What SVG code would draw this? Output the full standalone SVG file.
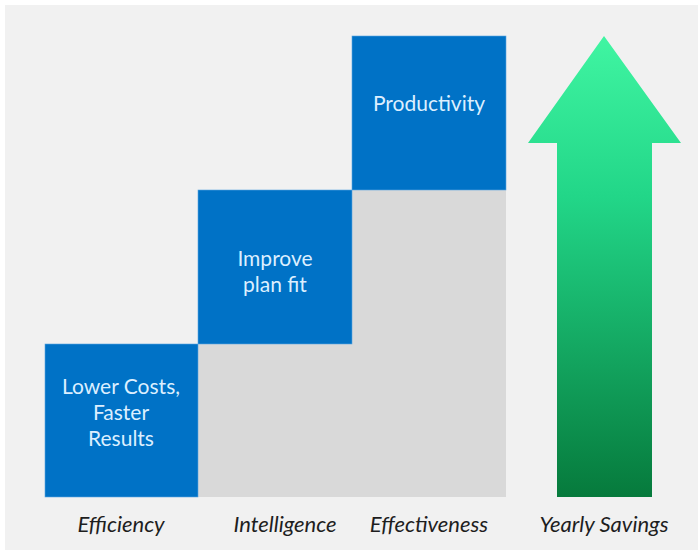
<svg xmlns="http://www.w3.org/2000/svg" width="698" height="550" viewBox="0 0 698 550">
  <defs>
    <linearGradient id="arrowFill" x1="0" y1="0" x2="0" y2="1">
      <stop offset="0" stop-color="#40f5a2"/>
      <stop offset="0.35" stop-color="#22d688"/>
      <stop offset="1" stop-color="#067a3c"/>
    </linearGradient>
    <style>
      .step { fill: #0072c6; stroke: #5aa6e0; stroke-width: 0.6; }
      .step-text { font-family: Lato, "Open Sans", "Liberation Sans", sans-serif; font-size: 21px; fill: #dcefff; text-anchor: middle; }
      .axis-label { font-family: Lato, "Open Sans", "Liberation Sans", sans-serif; font-size: 22px; font-style: italic; fill: #1e1e1e; text-anchor: middle; }
    </style>
  </defs>

  <rect x="0" y="0" width="698" height="550" fill="#ffffff"/>
  <rect x="5" y="5" width="693" height="545" fill="#f1f1f1"/>

  <!-- gray fill under the upper steps -->
  <rect x="198" y="190" width="308" height="307" fill="#d9d9d9"/>

  <g id="efficiency">
    <rect class="step" x="45" y="344" width="153" height="153"/>
    <text class="step-text" x="121" y="394">Lower Costs,</text>
    <text class="step-text" x="121" y="420">Faster</text>
    <text class="step-text" x="121" y="446">Results</text>
  </g>

  <g id="intelligence">
    <rect class="step" x="198" y="190" width="154" height="154"/>
    <text class="step-text" x="275" y="266">Improve</text>
    <text class="step-text" x="275" y="292">plan fit</text>
  </g>

  <g id="effectiveness">
    <rect class="step" x="352" y="36" width="154" height="154"/>
    <text class="step-text" x="429" y="111">Productivity</text>
  </g>

  <g id="yearly-savings">
    <polygon points="604,36 681,143 652,143 652,497 557,497 557,143 528,143" fill="url(#arrowFill)"/>
  </g>

  <g id="labels">
    <text class="axis-label" x="121" y="532">Efficiency</text>
    <text class="axis-label" x="285" y="532">Intelligence</text>
    <text class="axis-label" x="429" y="532">Effectiveness</text>
    <text class="axis-label" x="604" y="532">Yearly Savings</text>
  </g>
</svg>
